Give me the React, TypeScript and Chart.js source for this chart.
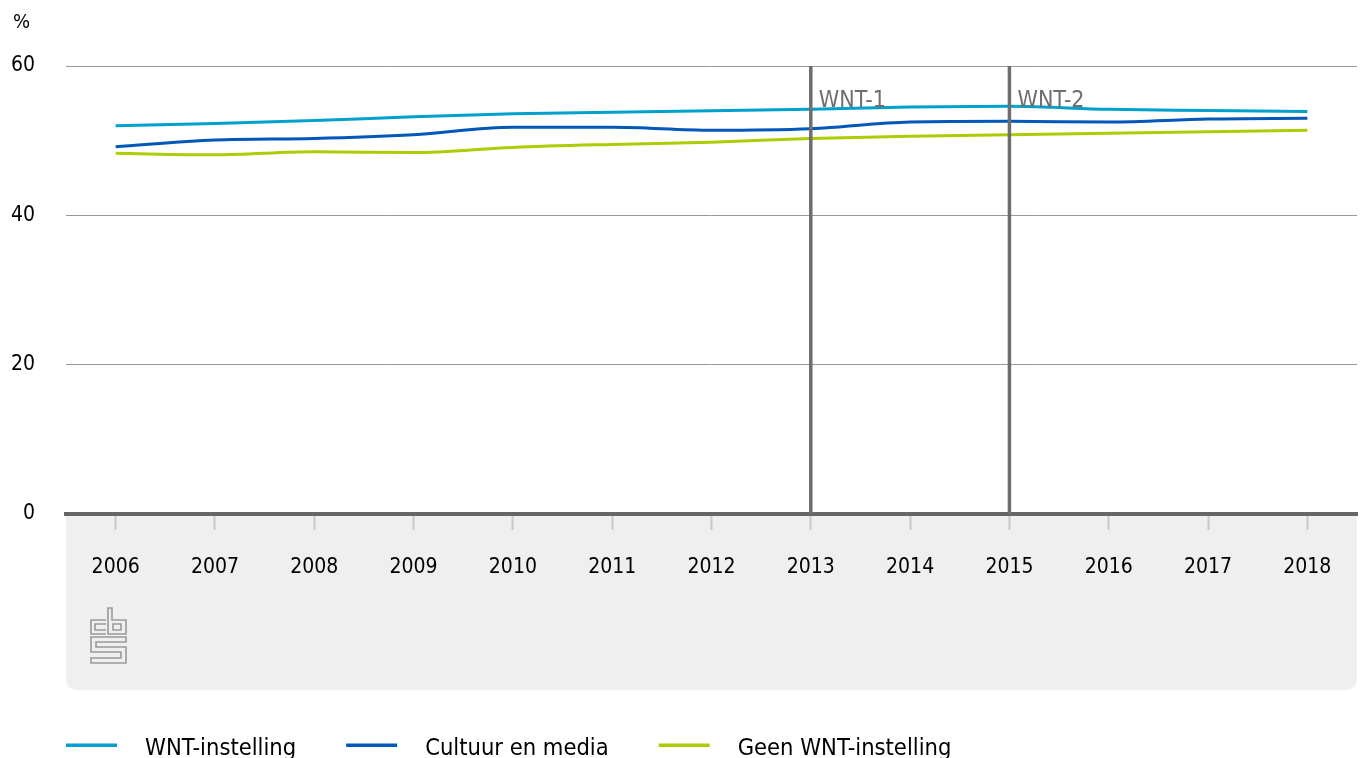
import React, { useEffect, useRef } from "react";
import { Chart, registerables } from "chart.js";

Chart.register(...registerables);

const years = ["2006", "2007", "2008", "2009", "2010", "2011", "2012", "2013", "2014", "2015", "2016", "2017", "2018"];
const wntInstelling = [52.0, 52.3, 52.7, 53.2, 53.6, 53.8, 54.0, 54.2, 54.5, 54.6, 54.2, 54.05, 53.9];
const cultuurEnMedia = [49.2, 50.1, 50.3, 50.8, 51.8, 51.8, 51.4, 51.6, 52.5, 52.6, 52.5, 52.9, 53.0];
const geenWnt = [48.3, 48.1, 48.5, 48.4, 49.1, 49.5, 49.8, 50.3, 50.6, 50.8, 51.0, 51.2, 51.4];
const seriesNames = ["WNT-instelling", "Cultuur en media", "Geen WNT-instelling"];
const seriesColors = ["#00a1cd", "#0058b8", "#afcb05"];
const markerYears = ["2013", "2015"];
const markerLabels = ["WNT-1", "WNT-2"];
const yTicks = [0, 20, 40, 60];
const unitLabel = "%";

const COND = "'DejaVu Sans Condensed', 'DejaVu Sans', sans-serif";
const NARROW = "'DejaVu Sans Condensed', sans-serif";

const decorPlugin = {
  id: "decor",
  beforeDraw(chart: any) {
    const { ctx, chartArea } = chart;
    const left = chartArea.left;
    const right = chartArea.right;
    const top = chartArea.bottom;
    const bottom = 690;
    const r = 12;
    ctx.save();
    ctx.fillStyle = "#efefef";
    ctx.beginPath();
    ctx.moveTo(left, top);
    ctx.lineTo(right, top);
    ctx.lineTo(right, bottom - r);
    ctx.quadraticCurveTo(right, bottom, right - r, bottom);
    ctx.lineTo(left + r, bottom);
    ctx.quadraticCurveTo(left, bottom, left, bottom - r);
    ctx.closePath();
    ctx.fill();

    // CBS logo
    ctx.strokeStyle = "#9a9a9a";
    ctx.lineWidth = 1.6;
    ctx.beginPath();
    ctx.moveTo(106, 620); ctx.lineTo(91, 620); ctx.lineTo(91, 634); ctx.lineTo(106, 634);
    ctx.moveTo(106, 624); ctx.lineTo(95, 624); ctx.lineTo(95, 630); ctx.lineTo(106, 630);
    ctx.moveTo(108, 608); ctx.lineTo(112, 608); ctx.lineTo(112, 620); ctx.lineTo(126, 620);
    ctx.lineTo(126, 634); ctx.lineTo(108, 634); ctx.closePath();
    ctx.rect(113, 624, 8, 6);
    ctx.moveTo(126, 637); ctx.lineTo(91, 637); ctx.lineTo(91, 652); ctx.lineTo(121, 652);
    ctx.lineTo(121, 658); ctx.lineTo(91, 658); ctx.lineTo(91, 663); ctx.lineTo(126, 663);
    ctx.lineTo(126, 647); ctx.lineTo(96, 647); ctx.lineTo(96, 642); ctx.lineTo(126, 642);
    ctx.closePath();
    ctx.stroke();

    // unit label
    ctx.fillStyle = "#000";
    ctx.font = `20px ${COND}`;
    ctx.textAlign = "left";
    ctx.textBaseline = "alphabetic";
    ctx.fillText(unitLabel, 13, 28);
    ctx.restore();
  },
  afterDatasetsDraw(chart: any) {
    const { ctx, chartArea, scales } = chart;
    ctx.save();
    markerYears.forEach((yr, i) => {
      const x = scales.x.getPixelForValue(years.indexOf(yr));
      ctx.strokeStyle = "#6e6e6e";
      ctx.lineWidth = 3.5;
      ctx.beginPath();
      ctx.moveTo(x, chartArea.top);
      ctx.lineTo(x, chartArea.bottom);
      ctx.stroke();
      ctx.fillStyle = "#6e6e6e";
      ctx.font = `23px ${COND}`;
      ctx.textAlign = "left";
      ctx.textBaseline = "alphabetic";
      ctx.fillText(markerLabels[i], x + 8, 107);
    });
    ctx.restore();
  },
  afterDraw(chart: any) {
    const { ctx, chartArea } = chart;
    ctx.save();
    let x = chartArea.left;
    const y = 745;
    ctx.font = `23.5px ${NARROW}`;
    ctx.textAlign = "left";
    ctx.textBaseline = "alphabetic";
    chart.data.datasets.forEach((ds: any) => {
      ctx.fillStyle = ds.borderColor;
      ctx.fillRect(x, y - 1.5, 51, 3.5);
      ctx.fillStyle = "#000";
      ctx.fillText(ds.label, x + 79, 755);
      x += 79 + ctx.measureText(ds.label).width + 50;
    });
    ctx.restore();
  },
};

export default function App() {
  const ref = useRef<HTMLCanvasElement>(null);
  useEffect(() => {
    if (!ref.current) return;
    const chart = new Chart(ref.current, {
      type: "line",
      data: {
        labels: years,
        datasets: [wntInstelling, cultuurEnMedia, geenWnt].map((d, i) => ({
          label: seriesNames[i],
          data: d,
          borderColor: seriesColors[i],
          backgroundColor: seriesColors[i],
          borderWidth: 3,
          pointRadius: 0,
          cubicInterpolationMode: "monotone" as const,
          fill: false,
        })),
      },
      options: {
        responsive: false,
        animation: false,
        layout: { padding: { top: 66, right: 3, left: 0, bottom: 0 } },
        plugins: { legend: { display: false }, tooltip: { enabled: false } },
        scales: {
          x: {
            type: "category",
            offset: true,
            afterFit: (s: any) => { s.height = 244; },
            grid: {
              drawOnChartArea: false,
              drawTicks: true,
              tickLength: 16,
              tickColor: "#c8c8c8",
              tickWidth: 2,
              color: "#c8c8c8",
            },
            border: { display: true, color: "#666666", width: 4 },
            ticks: {
              color: "#000",
              font: { family: COND, size: 21 },
              padding: 25,
              maxRotation: 0,
              autoSkip: false,
            },
          },
          y: {
            min: 0,
            max: 60,
            afterFit: (s: any) => { s.width = 66; },
            afterBuildTicks: (s: any) => { s.ticks = yTicks.map((v) => ({ value: v })); },
            grid: {
              drawTicks: false,
              color: (c: any) => (c.tick && c.tick.value === 0 ? "rgba(0,0,0,0)" : "#999999"),
              lineWidth: 1,
            },
            border: { display: false },
            ticks: {
              color: "#000",
              font: { family: COND, size: 21, lineHeight: 1.0 },
              padding: 31,
            },
          },
        },
      },
      plugins: [decorPlugin],
    });
    return () => chart.destroy();
  }, []);
  return (
    <div style={{ position: "fixed", left: 0, top: 0, width: 1360, height: 758, background: "#fff" }}>
      <canvas ref={ref} width={1360} height={758} style={{ display: "block" }} />
    </div>
  );
}
